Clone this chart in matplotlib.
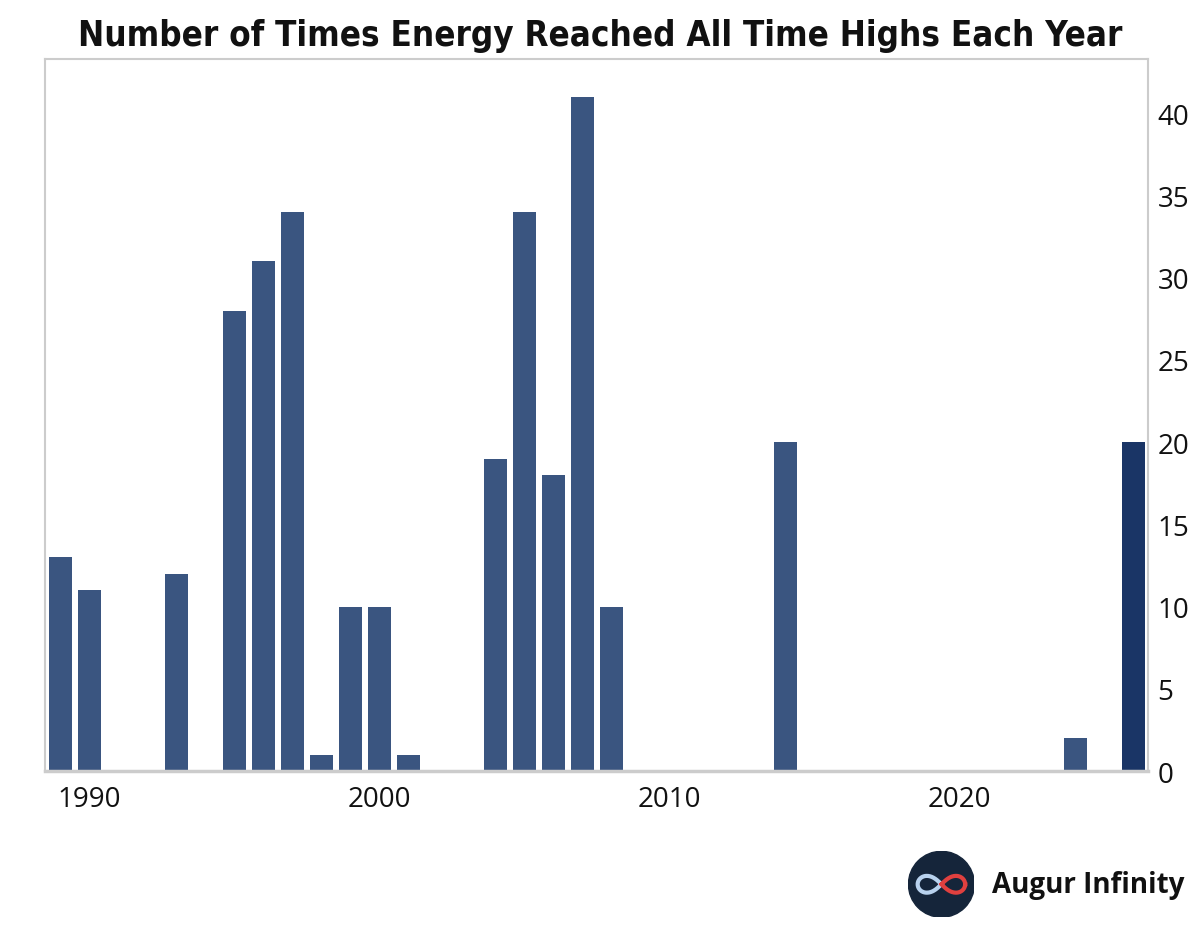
import numpy as np
import matplotlib.pyplot as plt
from matplotlib import font_manager
from matplotlib.patches import Circle

# years with at least one all time high
years = [1989, 1990, 1993, 1995, 1996, 1997, 1998, 1999, 2000, 2001,
         2004, 2005, 2006, 2007, 2008, 2014, 2024, 2026]
counts = [13, 11, 12, 28, 31, 34, 1, 10, 10, 1,
          19, 34, 18, 41, 10, 20, 2, 20]
x_ticks = [1990, 2000, 2010, 2020]
y_ticks = [0, 5, 10, 15, 20, 25, 30, 35, 40]

title = 'Number of Times Energy Reached All Time Highs Each Year'

bar_color = '#3a5580'
last_color = '#1a3566'
spine_color = '#cccccc'

# look for a condensed bold face for the title, else Roboto
title_font = font_manager.FontProperties(family='Roboto', weight='bold')
for f in font_manager.findSystemFonts():
    name = f.split('/')[-1]
    if name in ('DejaVuSansCondensed-Bold.ttf', 'LiberationSansNarrow-Bold.ttf'):
        title_font = font_manager.FontProperties(fname=f)
        break

fig = plt.figure(figsize=(12, 9.37), dpi=100)
ax = fig.add_axes([0.0375, 0.176, 0.919, 0.76])

colors = [bar_color] * (len(years) - 1) + [last_color]
ax.bar(years, counts, width=0.8, color=colors)

ax.set_xlim(1988.47, 2026.5)
ax.set_ylim(0, 43.3)
ax.set_xticks(x_ticks)
ax.set_yticks(y_ticks)
ax.yaxis.tick_right()
ax.tick_params(axis='both', length=0, labelsize=20, colors='#111111')
ax.tick_params(axis='x', pad=10)
ax.tick_params(axis='y', pad=7)
for lab in ax.get_xticklabels() + ax.get_yticklabels():
    lab.set_fontfamily('Open Sans')

for s in ax.spines.values():
    s.set_color(spine_color)
    s.set_linewidth(1.5)
ax.spines['bottom'].set_linewidth(2.5)

tt = fig.text(0.5, 0.962, title, ha='center', va='center', fontproperties=title_font,
              fontsize=30, color='#111111')
# shrink title so it spans about the same width as the reference
r = fig.canvas.get_renderer()
w = tt.get_window_extent(r).width
if w > 1040:
    tt.set_fontsize(30 * 1040 / w)

# logo
lax = fig.add_axes([0.757, 0.020, 0.055, 0.0704], frameon=False)
lax.set_xlim(-1, 1)
lax.set_ylim(-1, 1)
lax.set_aspect('equal')
lax.axis('off')
lax.add_patch(Circle((0, 0), 1, color='#15253a'))
t = np.linspace(0, 2 * np.pi, 200)
lx = 0.72 * np.cos(t) / (1 + np.sin(t) ** 2)
ly = 0.72 * np.sin(t) * np.cos(t) / (1 + np.sin(t) ** 2)
left = lx <= 0
lax.plot(np.where(left, lx, np.nan), np.where(left, ly, np.nan), color='#b8d2ee', lw=3)
lax.plot(np.where(~left, lx, np.nan), np.where(~left, ly, np.nan), color='#e0403f', lw=3)

fig.text(0.827, 0.055, 'Augur Infinity', ha='left', va='center', fontsize=20,
         fontweight='bold', family='Open Sans', color='#111111')

fig.savefig('out.png', dpi=100, facecolor='white')
